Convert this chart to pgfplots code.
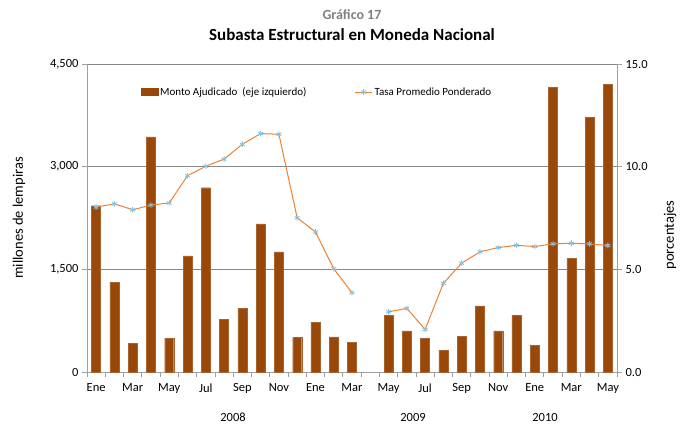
\documentclass[border=0pt]{standalone}
\usepackage{pgfplots}
\pgfplotsset{compat=1.18}
\usepackage{pgfplotstable}
\usepackage{fontspec}
\setmainfont{Carlito}

\definecolor{barbrown}{RGB}{153,72,10}
\definecolor{lineorange}{RGB}{240,128,48}
\definecolor{markblue}{RGB}{135,195,225}
\definecolor{axgray}{RGB}{160,160,160}
\definecolor{gridgray}{RGB}{135,135,135}
\definecolor{titlegray}{RGB}{128,128,128}

% Ene 2008 (0) ... May 2010 (28); Abr 2009 sin dato
\pgfplotstableread{
idx monto tasa
0  2430 8.03
1  1315 8.19
2  416  7.90
3  3436 8.13
4  490  8.23
5  1696 9.56
6  2693 10.02
7  768  10.37
8  934  11.09
9  2165 11.61
10 1755 11.58
11 504  7.51
12 729  6.82
13 513  5.03
14 435  3.86
15 nan  nan
16 831  2.93
17 601  3.10
18 490  2.07
19 318  4.32
20 523  5.30
21 968  5.85
22 601  6.06
23 831  6.17
24 387  6.11
25 4159 6.24
26 1662 6.27
27 3719 6.24
28 4207 6.16
}\datos

\begin{document}
\begin{tikzpicture}[font=\fontsize{12.5}{15}\selectfont]
\path[use as bounding box] (-87pt,-52pt) rectangle (601pt,372pt);

\begin{axis}[
    at={(0pt,0pt)}, anchor=south west,
    scale only axis, width=530pt, height=308pt,
    xmin=-0.5, xmax=28.5, ymin=0, ymax=4500,
    axis x line*=bottom, axis y line*=left,
    axis line style={draw=axgray, line width=0.8pt},
    tick align=outside,
    tick style={draw=axgray, line width=0.8pt},
    major tick length=5pt,
    ytick={0,1500,3000,4500},
    yticklabels={0,{1,500},{3,000},{4,500}},
    ymajorgrids, grid style={draw=gridgray, line width=0.6pt},
    xtick={-0.5,0.5,...,28.5},
    xticklabels={},
    extra x ticks={0,2,...,28},
    extra x tick labels={Ene,Mar,May,Jul,Sep,Nov,Ene,Mar,May,Jul,Sep,Nov,Ene,Mar,May},
    extra x tick style={major tick length=0pt, xticklabel style={yshift=-8pt}},
    ybar, bar width=9pt,
]
\addplot[fill=barbrown, draw=barbrown!85!white, line width=0.3pt] table[x=idx,y=monto]{\datos};
\end{axis}

\begin{axis}[
    at={(0pt,0pt)}, anchor=south west,
    scale only axis, width=530pt, height=308pt,
    xmin=-0.5, xmax=28.5, ymin=0, ymax=15,
    axis x line=none, axis y line*=right,
    axis line style={draw=axgray, line width=0.8pt},
    tick align=outside,
    tick style={draw=axgray, line width=0.8pt},
    major tick length=5pt,
    ytick={0,5,10,15},
    yticklabels={0.0,5.0,10.0,15.0},
    legend style={at={(0.434,0.909)}, anchor=center, draw=none, fill=none,
        legend columns=2, font=\fontsize{11}{13}\selectfont,
        /tikz/every even column/.append style={column sep=46pt}},
]
\addlegendimage{legend image code/.code={\fill[barbrown] (0pt,-3.5pt) rectangle (17pt,3.5pt);}}
\addlegendentry{Monto Ajudicado\ \ (eje izquierdo)}
\addplot[lineorange, line width=1pt, mark=asterisk, unbounded coords=jump,
    mark options={draw=markblue, line width=0.9pt, scale=1.4}]
    table[x=idx,y=tasa]{\datos};
\addlegendentry{Tasa Promedio Ponderado}
\end{axis}

\node[rotate=90, font=\fontsize{14.5}{17}\selectfont] at (-68pt,154pt) {millones de lempiras};
\node[rotate=90, font=\fontsize{14.5}{17}\selectfont] at (583pt,137pt) {porcentajes};
\node at (146pt,-45pt) {2008};
\node at (326pt,-45pt) {2009};
\node at (458pt,-45pt) {2010};
\node[font=\bfseries\fontsize{14}{16}\selectfont, text=titlegray] at (265pt,357pt) {Gráfico 17};
\node[font=\bfseries\fontsize{17}{20}\selectfont] at (265pt,337pt) {Subasta Estructural en Moneda Nacional};
\end{tikzpicture}
\end{document}
